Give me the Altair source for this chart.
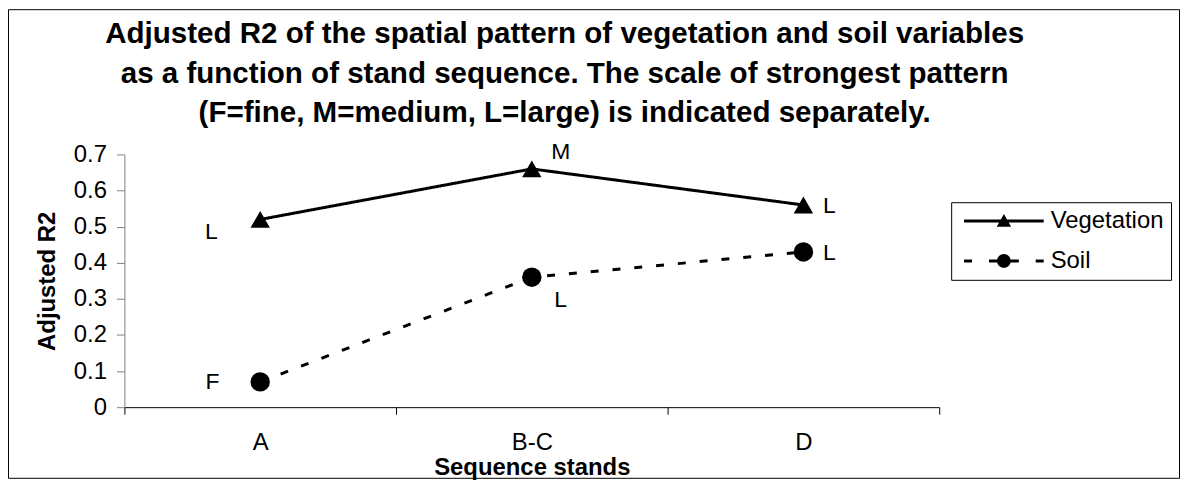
import altair as alt
import pandas as pd

# ---- data ----
stands = ["A", "B-C", "D"]
vegetation = [0.52, 0.66, 0.56]
soil = [0.07, 0.36, 0.43]
veg_scale_lbl = ["L", "M", "L"]
soil_scale_lbl = ["F", "L", "L"]
series_names = ["Vegetation", "Soil"]
y_ticks = [0, 0.1, 0.2, 0.3, 0.4, 0.5, 0.6, 0.7]
title_lines = ["Adjusted R2 of the spatial pattern of vegetation and soil variables",
               "as a function of stand sequence. The scale of strongest pattern",
               "(F=fine, M=medium, L=large) is indicated separately."]

rows = []
for i, s in enumerate(stands):
    rows.append({"stand": s, "series": "Vegetation", "value": vegetation[i], "lbl": veg_scale_lbl[i], "idx": i})
for i, s in enumerate(stands):
    rows.append({"stand": s, "series": "Soil", "value": soil[i], "lbl": soil_scale_lbl[i], "idx": i})
df = pd.DataFrame(rows)

FONT = "Liberation Sans"
W, H = 819, 254
PAD = {"left": 117, "top": 146, "right": 242, "bottom": 72}

x_enc = alt.X("stand:N", sort=stands,
              scale=alt.Scale(type="band", paddingInner=0, paddingOuter=0),
              axis=alt.Axis(title="Sequence stands", labelAngle=0, tickBand="extent",
                            domainColor="black", tickColor="black", tickSize=7,
                            labelFontSize=24, labelFont=FONT, labelColor="black", labelPadding=17,
                            titleFontSize=24, titleFont=FONT, titleFontWeight="bold",
                            titleColor="black", titlePadding=1, grid=False))
y_enc = alt.Y("value:Q", scale=alt.Scale(domain=[0, 0.7], nice=False, zero=True),
              axis=alt.Axis(title="Adjusted R2", values=y_ticks, format="~g",
                            domainColor="#808080", tickColor="#808080", tickSize=8,
                            labelFontSize=24, labelFont=FONT, labelColor="black", labelPadding=10,
                            titleFontSize=24, titleFont=FONT, titleFontWeight="bold",
                            titleColor="black", titlePadding=14, grid=False))

base = alt.Chart(df)

lines = base.mark_line(color="black", strokeWidth=3).encode(
    x=x_enc, y=y_enc,
    strokeDash=alt.StrokeDash("series:N", scale=alt.Scale(domain=series_names, range=[[1, 0], [8, 14]]), legend=None),
    detail="series:N",
)

points = base.mark_point(filled=True, color="black", size=380, opacity=1).encode(
    x=x_enc, y=y_enc,
    shape=alt.Shape("series:N", scale=alt.Scale(domain=series_names, range=["triangle-up", "circle"]), legend=None),
)

# legend symbols (line + marker) as filled paths, unit = 6 px
veg_path = ("M-6.67,-0.25L6.67,-0.25L6.67,0.25L-6.67,0.25Z"
            "M0,-1.2L1.2,0.95L-1.2,0.95Z")
soil_path = ("M-6.67,-0.25L-5.33,-0.25L-5.33,0.25L-6.67,0.25Z"
             "M-2.5,-0.25L2.5,-0.25L2.5,0.25L-2.5,0.25Z"
             "M5.33,-0.25L6.67,-0.25L6.67,0.25L5.33,0.25Z"
             "M-1.15,0A1.15,1.15,0,1,1,1.15,0A1.15,1.15,0,1,1,-1.15,0Z")

legend_layer = base.mark_point(filled=True, fill="black", strokeWidth=0,
                               opacity=0, size=144).encode(
    x=x_enc, y=y_enc,
    shape=alt.Shape("series:N", scale=alt.Scale(domain=series_names, range=[veg_path, soil_path]),
                    legend=alt.Legend(title=None, orient="none", legendX=831, legendY=48,
                                      labelFontSize=24, labelFont=FONT, labelColor="black",
                                      symbolSize=144, symbolOpacity=1, symbolStrokeWidth=0,
                                      symbolFillColor="black",
                                      symbolOffset=34, labelOffset=35, padding=7, rowPadding=16,
                                      strokeColor="black", fillColor="white")),
)

# point annotations (F / M / L), with per-point placement
placements = [
    ("Vegetation", 0, -49, 13), ("Vegetation", 1, 29, -17), ("Vegetation", 2, 26, 1),
    ("Soil", 0, -48, 0), ("Soil", 1, 29, 23), ("Soil", 2, 26, 1),
]
texts = []
for ser, i, ddx, ddy in placements:
    texts.append(
        base.transform_filter((alt.datum.series == ser) & (alt.datum.idx == i))
        .mark_text(fontSize=23, font=FONT, color="black", dx=ddx, dy=ddy, align="center", baseline="middle")
        .encode(x=x_enc, y=y_enc, text="lbl:N")
    )

border = alt.Chart(pd.DataFrame({"k": [0]})).mark_rect(fill=None, stroke="black", strokeWidth=1).encode(
    x=alt.value(-116.5), x2=alt.value(W + PAD["right"] - 0.5),
    y=alt.value(-145.5), y2=alt.value(H + PAD["bottom"] - 0.5),
)

chart = alt.layer(border, lines, points, legend_layer, *texts).resolve_scale(
    shape="independent"
).properties(
    width=W, height=H,
    autosize=alt.AutoSizeParams(type="none"),
    padding=PAD,
    background="white",
    title=alt.TitleParams(
        text=title_lines,
        fontSize=29.7, font=FONT, fontWeight="bold", color="black",
        anchor="middle", frame="group", lineHeight=39.5,
        offset=0, dx=33, dy=120,
    ),
).configure_view(stroke="transparent", strokeWidth=0)

chart.save("out.html", embed_options={"renderer": "svg", "actions": False})
